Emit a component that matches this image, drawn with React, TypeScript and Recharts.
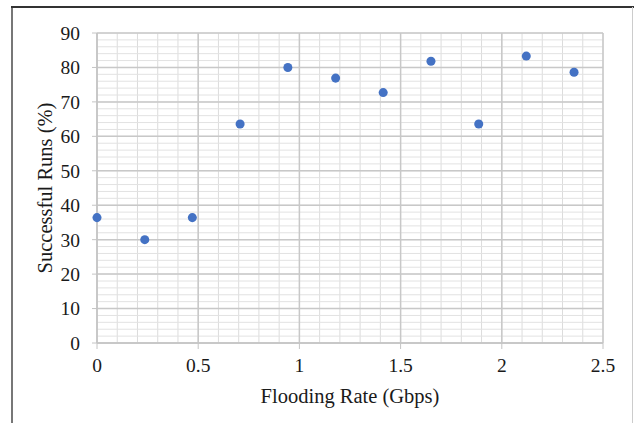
import { ScatterChart, Scatter, XAxis, YAxis, ZAxis, ReferenceLine, Label } from 'recharts';

const rates = [0, 0.236, 0.471, 0.707, 0.943, 1.179, 1.414, 1.65, 1.886, 2.121, 2.357];
const success = [36.4, 30, 36.4, 63.6, 80, 76.9, 72.7, 81.8, 63.6, 83.3, 78.6];
const xTicks = [0, 0.5, 1, 1.5, 2, 2.5];
const yTicks = [0, 10, 20, 30, 40, 50, 60, 70, 80, 90];

const data = rates.map((x, i) => ({ x, y: success[i] }));

// minor grid: every 0.1 on x, every 2 on y
const xMinor = Array.from({ length: 26 }, (_, i) => i / 10);
const yMinor = Array.from({ length: 46 }, (_, i) => i * 2);

const FONT = '"Liberation Serif", "DejaVu Serif", serif';
const tickStyle = { fontSize: 19.5, fill: '#1a1a1a', fontFamily: FONT };
const titleStyle = { fontSize: 20.5, fill: '#1a1a1a', fontFamily: FONT };

export default function App() {
    return (
        <div style={{ position: 'fixed', left: 0, top: 0, width: 634, height: 423, background: '#fff' }}>
            <div style={{ position: 'absolute', left: 11, top: 6, width: 2, height: 417, background: '#777' }} />
            <div style={{ position: 'absolute', left: 11, top: 6, width: 623, height: 2, background: '#333' }} />
            <div style={{ position: 'absolute', left: 632, top: 7, width: 1, height: 416, background: '#ccc' }} />
            <div style={{ position: 'absolute', left: 0, top: 0 }}>
                <ScatterChart width={634} height={423} margin={{ top: 33, right: 31, bottom: 20, left: 37 }}>
                    <XAxis
                        type="number"
                        dataKey="x"
                        domain={[0, 2.5]}
                        ticks={xTicks}
                        interval={0}
                        tick={tickStyle}
                        tickSize={6}
                        tickMargin={9}
                        height={60}
                        tickLine={{ stroke: '#c4c4c4' }}
                        axisLine={{ stroke: '#c4c4c4', strokeWidth: 1.5 }}
                    >
                        <Label value="Flooding Rate (Gbps)" position="insideBottom" offset={0} style={titleStyle} />
                    </XAxis>
                    <YAxis
                        type="number"
                        dataKey="y"
                        domain={[0, 90]}
                        ticks={yTicks}
                        interval={0}
                        tick={tickStyle}
                        tickSize={5}
                        tickMargin={12}
                        width={60}
                        tickLine={{ stroke: '#c4c4c4' }}
                        axisLine={{ stroke: '#c4c4c4', strokeWidth: 1.5 }}
                    >
                        <Label value="Successful Runs (%)" angle={-90} position="insideLeft" offset={8} style={{ ...titleStyle, textAnchor: 'middle' }} />
                    </YAxis>
                    <ZAxis range={[40, 40]} />
                    {xMinor.map((v) => (
                        <ReferenceLine key={`xm-${v}`} x={v} stroke="#dcdcdc" strokeWidth={1} />
                    ))}
                    {yMinor.map((v) => (
                        <ReferenceLine key={`ym-${v}`} y={v} stroke="#e2e2e2" strokeWidth={1} />
                    ))}
                    {xTicks.map((v) => (
                        <ReferenceLine key={`xM-${v}`} x={v} stroke="#c8c8c8" strokeWidth={1.5} />
                    ))}
                    {yTicks.map((v) => (
                        <ReferenceLine key={`yM-${v}`} y={v} stroke="#c8c8c8" strokeWidth={1.5} />
                    ))}
                    <Scatter data={data} fill="#4472C4" isAnimationActive={false} />
                </ScatterChart>
            </div>
        </div>
    );
}
